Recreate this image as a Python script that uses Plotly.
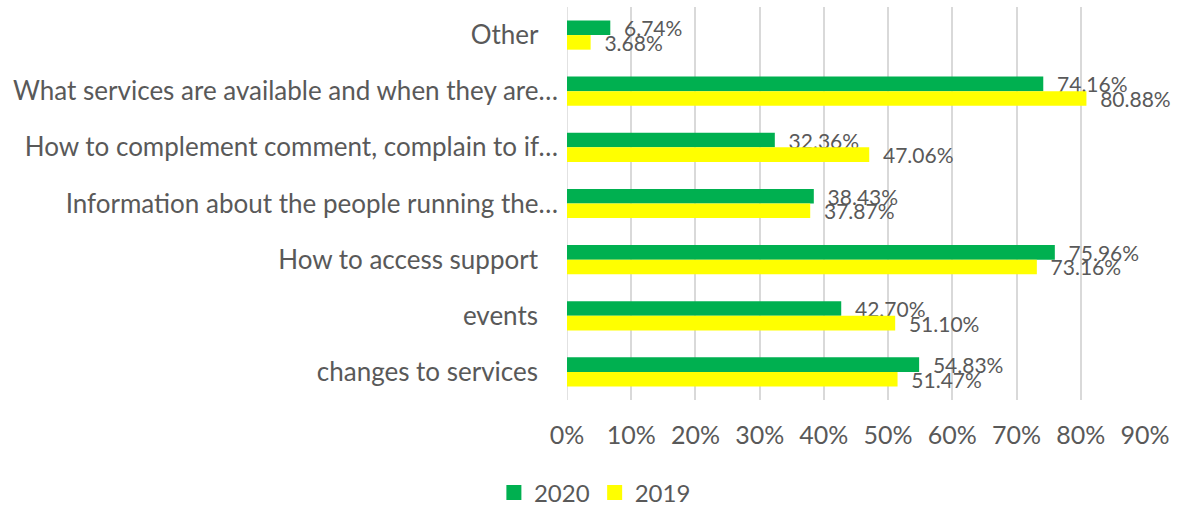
import plotly.graph_objects as go

categories = [
    "Other",
    "What services are available and when they are…",
    "How to complement comment, complain to if…",
    "Information about the people running the…",
    "How to access support",
    "events",
    "changes to services",
]
trailing_space = [True, False, False, False, True, True, True]
values_2020 = [0.0674, 0.7416, 0.3236, 0.3843, 0.7596, 0.4270, 0.5483]
values_2019 = [0.0368, 0.8088, 0.4706, 0.3787, 0.7316, 0.5110, 0.5147]
series_names = ["2020", "2019"]
series_colors = ["#00B050", "#FFFF00"]
x_ticks = [0, 0.1, 0.2, 0.3, 0.4, 0.5, 0.6, 0.7, 0.8, 0.9]
x_ticktext = ["0%", "10%", "20%", "30%", "40%", "50%", "60%", "70%", "80%", "90%"]

FONT = "Lato"
GREY = "#595959"

fig = go.Figure()
for name, vals, col in zip(series_names, [values_2020, values_2019], series_colors):
    fig.add_trace(go.Bar(
        y=categories, x=vals, name=name, orientation="h",
        marker=dict(color=col, line=dict(width=0)),
        texttemplate="\u00a0\u00a0%{x:.2%}",
        textposition="outside", constraintext="none", cliponaxis=False,
        textfont=dict(family=FONT, size=21, color=GREY),
        showlegend=False,
    ))
# legend entries with larger square swatches
for name, col in zip(series_names, series_colors):
    fig.add_trace(go.Scatter(
        x=[None], y=[None], mode="markers", name=name,
        marker=dict(symbol="square", size=15, color=col),
        showlegend=True,
    ))

ticktext = [c + ("\u00a0\u00a0\u00a0" if t else "") for c, t in zip(categories, trailing_space)]

fig.update_layout(
    width=1178, height=507,
    margin=dict(l=567, r=33, t=7, b=107),
    paper_bgcolor="white", plot_bgcolor="white",
    barmode="group", bargap=0.48, bargroupgap=0,
    font=dict(family=FONT, size=25, color=GREY),
    showlegend=True,
    legend=dict(orientation="h", xref="container", yref="container",
                x=0.505, xanchor="center", y=0.028, yanchor="middle",
                font=dict(family=FONT, size=24, color=GREY),
                itemwidth=30, traceorder="normal", itemsizing="trace"),
    xaxis=dict(range=[0, 0.9], tickvals=x_ticks, ticktext=x_ticktext,
               showgrid=True, gridcolor="#D9D9D9", gridwidth=1.5,
               zeroline=False, showline=False, ticks="",
               ticklabelstandoff=18, tickfont=dict(size=25, color=GREY)),
    yaxis=dict(autorange="reversed", tickvals=categories, ticktext=ticktext,
               showgrid=False, zeroline=False, showline=False, ticks="",
               ticklabelstandoff=8, tickfont=dict(size=26, color=GREY)),
)
fig.add_shape(type="line", xref="x", yref="paper", x0=0, x1=0, y0=0, y1=1,
              line=dict(color="#D9D9D9", width=1.5), layer="below")

fig.write_html("out.html")
